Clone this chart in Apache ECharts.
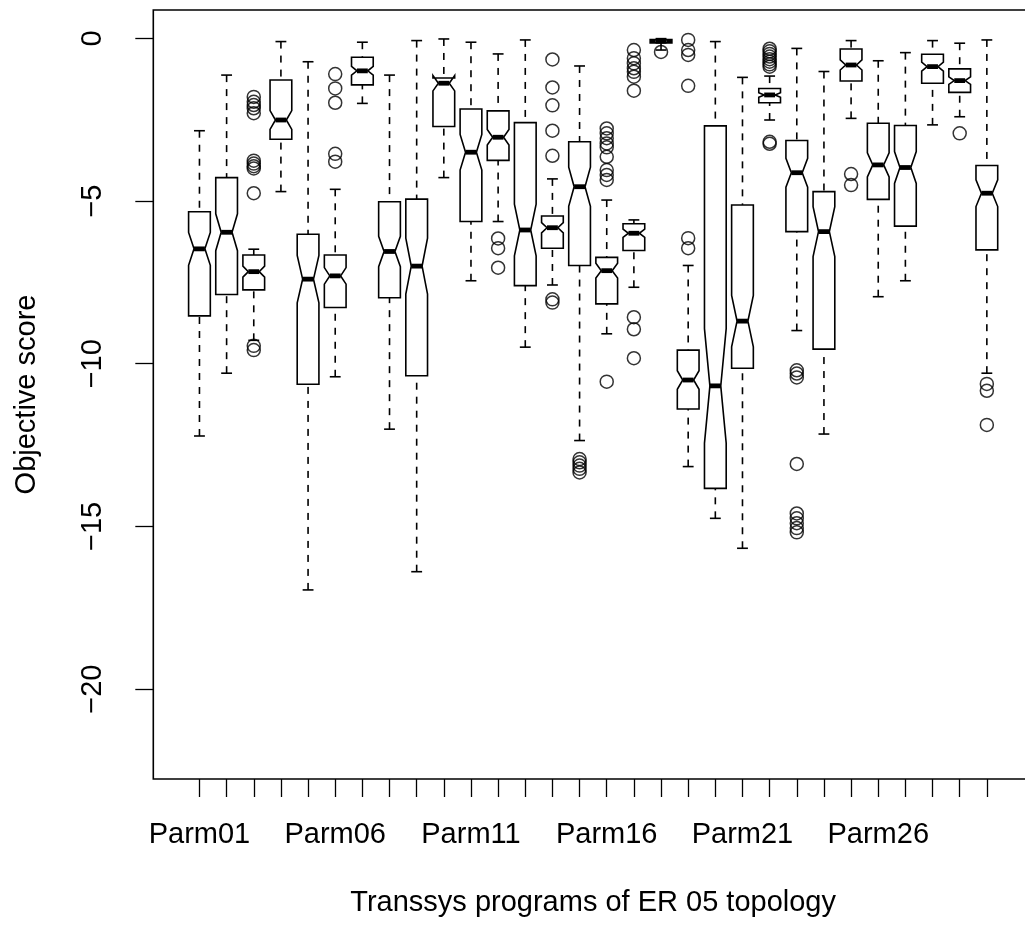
<!DOCTYPE html>
<html>
<head>
<meta charset="utf-8">
<script src="https://cdn.jsdelivr.net/npm/echarts@6/dist/echarts.min.js"></script>
<style>
  html, body { margin: 0; padding: 0; background: #ffffff; }
  #chart { width: 1025px; height: 926px; }
</style>
</head>
<body>
<div id="chart"></div>
<script>
// Programs on the x axis (one notched box each)
const programNames = [
  'Parm01','Parm02','Parm03','Parm04','Parm05','Parm06','Parm07','Parm08','Parm09','Parm10',
  'Parm11','Parm12','Parm13','Parm14','Parm15','Parm16','Parm17','Parm18','Parm19','Parm20',
  'Parm21','Parm22','Parm23','Parm24','Parm25','Parm26','Parm27','Parm28','Parm29','Parm30'
];

// Five-number summaries of the objective score per program
const whiskerHigh = [-2.84,-1.13,-6.48,-0.10,-0.72,-4.64,-0.12,-1.13,-0.07,-0.02,
                     -0.12,-0.48,-0.05,-4.32,-0.85,-4.97,-5.58,-0.01,-6.98,-0.10,
                     -1.20,-1.16,-0.31,-1.02,-0.07,-0.69,-0.44,-0.07,-0.15,-0.05];
const upperHinge  = [-5.33,-4.28,-6.66,-1.28,-6.02,-6.66,-0.58,-5.02,-4.94,-1.22,
                     -2.17,-2.23,-2.59,-5.46,-3.18,-6.73,-5.70,-0.04,-9.58,-2.69,
                     -5.12,-1.54,-3.14,-4.71,-0.33,-2.61,-2.68,-0.49,-0.94,-3.91];
const medians     = [-6.47,-5.96,-7.17,-2.51,-7.40,-7.30,-1.00,-6.55,-7.00,-1.38,
                     -3.50,-3.04,-5.89,-5.82,-4.56,-7.14,-5.99,-0.09,-10.50,-10.68,
                     -8.69,-1.74,-4.13,-5.94,-0.82,-3.89,-3.97,-0.87,-1.30,-4.76];
const lowerHinge  = [-8.53,-7.87,-7.73,-3.10,-10.63,-8.27,-1.43,-7.97,-10.37,-2.71,
                     -5.63,-3.75,-7.60,-6.45,-6.98,-8.16,-6.52,-0.14,-11.39,-13.83,
                     -10.14,-1.98,-5.94,-9.55,-1.31,-4.95,-5.77,-1.38,-1.66,-6.50];
const whiskerLow  = [-12.22,-10.29,-9.28,-4.71,-16.95,-10.40,-2.00,-12.01,-16.39,-4.28,
                     -7.45,-5.63,-9.49,-7.58,-12.36,-9.08,-7.65,-0.36,-13.16,-14.75,
                     -15.67,-2.51,-8.98,-12.16,-2.46,-7.94,-7.45,-2.66,-2.41,-10.29];

// Points beyond the whiskers, per program
const outliers = [
  [], [],
  [-1.80,-1.95,-2.05,-2.15,-2.30,-3.76,-3.85,-3.93,-4.00,-4.76,-9.45,-9.58],
  [], [],
  [-1.10,-1.54,-1.98,-3.55,-3.79],
  [], [], [], [], [],
  [-6.15,-6.45,-7.05],
  [],
  [-0.65,-1.51,-2.06,-2.84,-3.61,-8.02,-8.12],
  [-12.93,-13.03,-13.13,-13.23,-13.34],
  [-2.77,-2.92,-3.07,-3.23,-3.35,-3.64,-4.05,-4.20,-4.35,-10.55],
  [-0.36,-0.61,-0.77,-0.92,-1.03,-1.18,-1.61,-8.57,-8.94,-9.83],
  [-0.42],
  [-0.05,-0.36,-0.51,-1.46,-6.14,-6.45],
  [], [],
  [-0.32,-0.40,-0.48,-0.56,-0.64,-0.72,-0.80,-0.87,-3.18,-3.24],
  [-10.20,-10.30,-10.42,-13.08,-14.60,-14.75,-14.90,-15.05,-15.18],
  [],
  [-4.17,-4.51],
  [], [], [],
  [-2.92],
  [-10.62,-10.83,-11.88]
];

// Runs behind each box (used for the median notch, 1.58 * IQR / sqrt(n))
const runsPerProgram = 100;

const yTickValues = [0, -5, -10, -15, -20];
const labelledPrograms = [1, 6, 11, 16, 21, 26];

const FONT = '"Liberation Sans", Arial, Helvetica, sans-serif';
const LW = 1.6;          // base line width
const BOX_HALF = 0.4;    // half box width in axis units
const STAPLE_HALF = 0.2; // half whisker-cap width in axis units

const boxData = programNames.map((_, i) => [
  i + 1, whiskerLow[i], lowerHinge[i], medians[i], upperHinge[i], whiskerHigh[i]
]);
const outlierData = [];
outliers.forEach((vals, i) => vals.forEach(v => outlierData.push([i + 1, v])));

function renderNotchedBox(params, api) {
  const x = api.value(0);
  const wl = api.value(1), q1 = api.value(2), med = api.value(3),
        q3 = api.value(4), wh = api.value(5);
  const notch = 1.58 * (q3 - q1) / Math.sqrt(runsPerProgram);
  const c1 = med - notch, c2 = med + notch;
  const cx = api.coord([x, 0])[0];
  const half = api.size([BOX_HALF, 0])[0];
  const cap = api.size([STAPLE_HALF, 0])[0];
  const py = v => api.coord([x, v])[1];
  const stroke = { stroke: '#000', lineWidth: LW, fill: null };
  const dashed = { stroke: '#000', lineWidth: LW, lineDash: [7, 7], fill: null };

  const pts = [
    [cx - half, py(q1)], [cx + half, py(q1)], [cx + half, py(c1)],
    [cx + half * 0.5, py(med)], [cx + half, py(c2)], [cx + half, py(q3)],
    [cx - half, py(q3)], [cx - half, py(c2)], [cx - half * 0.5, py(med)],
    [cx - half, py(c1)]
  ];
  return {
    type: 'group',
    children: [
      // whiskers are drawn from the cap toward the box
      { type: 'line', shape: { x1: cx, y1: py(wl), x2: cx, y2: py(q1) }, style: dashed },
      { type: 'line', shape: { x1: cx, y1: py(wh), x2: cx, y2: py(q3) }, style: dashed },
      { type: 'line', shape: { x1: cx - cap, y1: py(wl), x2: cx + cap, y2: py(wl) }, style: stroke },
      { type: 'line', shape: { x1: cx - cap, y1: py(wh), x2: cx + cap, y2: py(wh) }, style: stroke },
      { type: 'polygon', shape: { points: pts }, style: { stroke: '#000', lineWidth: LW, fill: '#fff', lineJoin: 'miter' } },
      { type: 'line', shape: { x1: cx - half * 0.5, y1: py(med), x2: cx + half * 0.5, y2: py(med) },
        style: { stroke: '#000', lineWidth: LW * 3, lineCap: 'butt' } }
    ]
  };
}

const chart = echarts.init(document.getElementById('chart'), null, { renderer: 'canvas' });
chart.setOption({
  animation: false,
  backgroundColor: '#ffffff',
  textStyle: { fontFamily: FONT, color: '#000' },
  grid: {
    left: 153.3, top: 10, width: 879.7, height: 769,
    show: true, borderColor: '#000', borderWidth: LW, backgroundColor: 'transparent',
    containLabel: false, outerBoundsMode: 'none'
  },
  xAxis: {
    type: 'value', min: -0.7, max: 31.7, position: 'bottom',
    name: 'Transsys programs of ER 05 topology',
    nameLocation: 'middle', nameGap: 109, nameMoveOverlap: false,
    nameTextStyle: { fontSize: 29, fontFamily: FONT, color: '#000' },
    axisLine: { show: false, onZero: false },
    splitLine: { show: false },
    axisTick: {
      show: true, length: 18, inside: false,
      customValues: programNames.map((_, i) => i + 1),
      lineStyle: { color: '#000', width: 1.3 }
    },
    axisLabel: {
      show: true, margin: 41, fontSize: 29, fontFamily: FONT, color: '#000',
      customValues: labelledPrograms,
      formatter: v => programNames[Math.round(v) - 1] || ''
    }
  },
  yAxis: {
    type: 'value', min: -22.76, max: 0.87, position: 'left',
    name: 'Objective score',
    nameLocation: 'middle', nameGap: 112, nameRotate: 90, nameMoveOverlap: false,
    nameTextStyle: { fontSize: 29, fontFamily: FONT, color: '#000' },
    axisLine: { show: false, onZero: false },
    splitLine: { show: false },
    axisTick: {
      show: true, length: 18, inside: false,
      customValues: yTickValues,
      lineStyle: { color: '#000', width: 1.3 }
    },
    axisLabel: {
      show: true, rotate: 90, margin: 46, fontSize: 29, fontFamily: FONT, color: '#000',
      customValues: yTickValues,
      formatter: v => (v < 0 ? '\u2212' + Math.abs(v) : String(v))
    }
  },
  series: [
    {
      type: 'custom',
      name: 'boxes',
      renderItem: renderNotchedBox,
      data: boxData,
      encode: { x: 0, y: [1, 2, 3, 4, 5] },
      clip: false,
      z: 2
    },
    {
      type: 'scatter',
      name: 'outliers',
      data: outlierData,
      symbol: 'circle',
      symbolSize: 13,
      itemStyle: { color: 'transparent', borderColor: '#000', borderWidth: 1.5 },
      z: 3
    }
  ]
});
</script>
</body>
</html>
